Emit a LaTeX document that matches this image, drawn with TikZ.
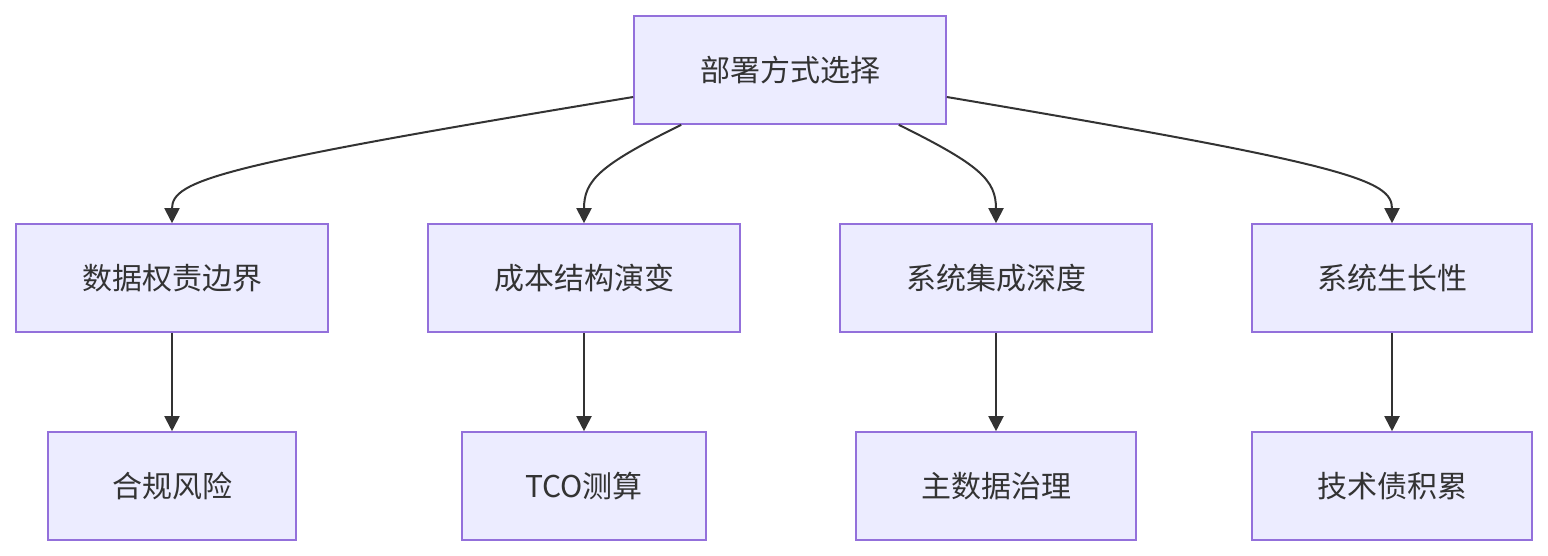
\documentclass[tikz,border=0pt]{standalone}
\usepackage{fontspec}
\setmainfont{Noto Sans CJK SC}
\usetikzlibrary{arrows.meta,calc}
\definecolor{nfill}{HTML}{ECECFF}
\definecolor{nline}{HTML}{9370DB}
\definecolor{ink}{HTML}{333333}
\begin{document}
\begin{tikzpicture}[x=1pt,y=-1pt,
  box/.style={draw=nline,fill=nfill,line width=1.6pt,minimum height=108pt,text=ink,font=\fontsize{30}{36}\selectfont,inner sep=0pt},
  conn/.style={draw=ink,line width=2pt,-{Triangle[length=15pt,width=15pt]}}]
\useasboundingbox (0,0) rectangle (1548,556);
\node[box,minimum width=312pt] (top) at (790,70) {部署方式选择};
\node[box,minimum width=312pt] (a) at (172,278) {数据权责边界};
\node[box,minimum width=312pt] (b) at (584,278) {成本结构演变};
\node[box,minimum width=312pt] (c) at (996,278) {系统集成深度};
\node[box,minimum width=280pt] (d) at (1392,278) {系统生长性};
\node[box,minimum width=248pt] (a2) at (172,486) {合规风险};
\node[box,minimum width=244pt] (b2) at (584,486) {TCO测算};
\node[box,minimum width=280pt] (c2) at (996,486) {主数据治理};
\node[box,minimum width=280pt] (d2) at (1392,486) {技术债积累};
\coordinate (t1) at ($(top.west)+(0,27)$);
\coordinate (t2) at ($(top.south west)+(48,0)$);
\coordinate (t3) at ($(top.south east)+(-48,0)$);
\coordinate (t4) at ($(top.east)+(0,27)$);
\draw[conn] (t1) .. controls (220,165) and (172,180) .. (a.north);
\draw[conn] (t2) .. controls (600,165) and (584,180) .. (b.north);
\draw[conn] (t3) .. controls (980,165) and (996,180) .. (c.north);
\draw[conn] (t4) .. controls (1350,165) and (1392,180) .. (d.north);
\draw[conn] (a) -- (a2);
\draw[conn] (b) -- (b2);
\draw[conn] (c) -- (c2);
\draw[conn] (d) -- (d2);
\end{tikzpicture}
\end{document}
